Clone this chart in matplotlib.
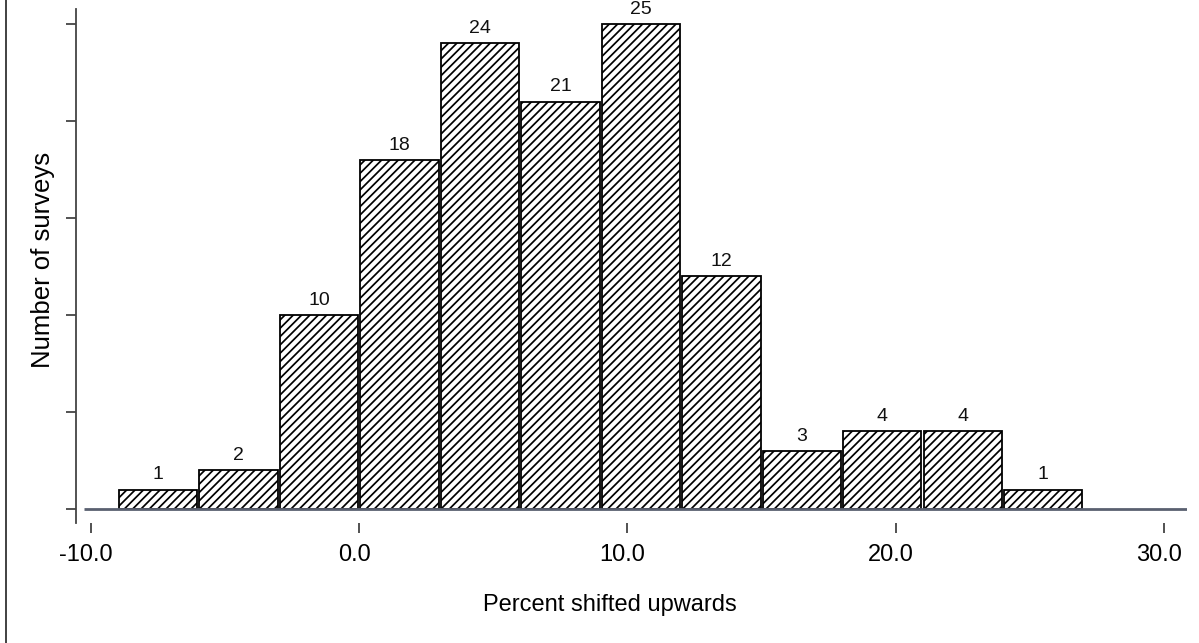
import matplotlib
matplotlib.use("Agg")
import matplotlib.pyplot as plt
from matplotlib.lines import Line2D
from matplotlib.transforms import ScaledTranslation

plt.rcParams['font.family'] = ['Liberation Sans', 'DejaVu Sans']
plt.rcParams['hatch.linewidth'] = 1.25
plt.rcParams['hatch.color'] = '#3c3c3c'

# Histogram of the upward shift, bins of width 3 starting at -9
bin_edges = [-9, -6, -3, 0, 3, 6, 9, 12, 15, 18, 21, 24, 27]
counts = [1, 2, 10, 18, 24, 21, 25, 12, 3, 4, 4, 1]
x_ticks = [-10, 0, 10, 20, 30]
x_tick_labels = ['-10.0', '0.0', '10.0', '20.0', '30.0']
y_ticks = [0, 5, 10, 15, 20, 25]

W, H = 1199, 643
fig = plt.figure(figsize=(W / 100, H / 100), dpi=100)
ax = fig.add_axes([76 / W, 1 - 523 / H, (1187 - 76) / W, (523 - 9) / H])
ax.set_xlim(-10.56, 30.86)
ax.set_ylim(-0.72, 25.77)

lefts = bin_edges[:-1]
widths = [b - a for a, b in zip(bin_edges[:-1], bin_edges[1:])]
gap = 0.08
ax.bar([l + gap / 2 for l in lefts], counts,
       width=[w - gap for w in widths], align='edge',
       color='white', edgecolor='black',
       linewidth=1.3, hatch='////', zorder=2)

for l, w, c in zip(lefts, widths, counts):
    ax.text(l + w / 2, c + 0.32, str(c), ha='center', va='bottom',
            fontsize=14, color='#111111')

# baseline of the histogram
ax.hlines(0, -10.26, 30.9, color='#5a6070', linewidth=2, zorder=3)

for s in ['top', 'right', 'bottom']:
    ax.spines[s].set_visible(False)
ax.spines['left'].set_color('#444444')
ax.spines['left'].set_linewidth(1.3)

ax.set_xticks(x_ticks)
ax.set_xticklabels(x_tick_labels, fontsize=17)
ax.set_yticks(y_ticks)
ax.set_yticklabels([])
ax.tick_params(axis='x', direction='out', length=7, width=1.2,
               color='#333333', pad=8)
ax.tick_params(axis='y', direction='out', length=7, width=1.3,
               color='#444444')
shift = ScaledTranslation(-5 / 100, 0, fig.dpi_scale_trans)
for lbl in ax.get_xticklabels():
    lbl.set_transform(lbl.get_transform() + shift)

ax.set_xlabel('Percent shifted upwards', fontsize=17)
ax.xaxis.label.set_va('center')
ax.xaxis.set_label_coords((610 - 76) / 1111, (523 - 605) / 514)
ax.set_ylabel('Number of surveys', fontsize=18.5)
ax.yaxis.label.set_va('center')
ax.yaxis.set_label_coords((43 - 76) / 1111, (523 - 260) / 514)

# frame line along the left edge
fig.add_artist(Line2D([5.5 / W, 5.5 / W], [0, 1], color='#333333',
                      linewidth=1.3, transform=fig.transFigure))

fig.savefig('out.png', dpi=100)
